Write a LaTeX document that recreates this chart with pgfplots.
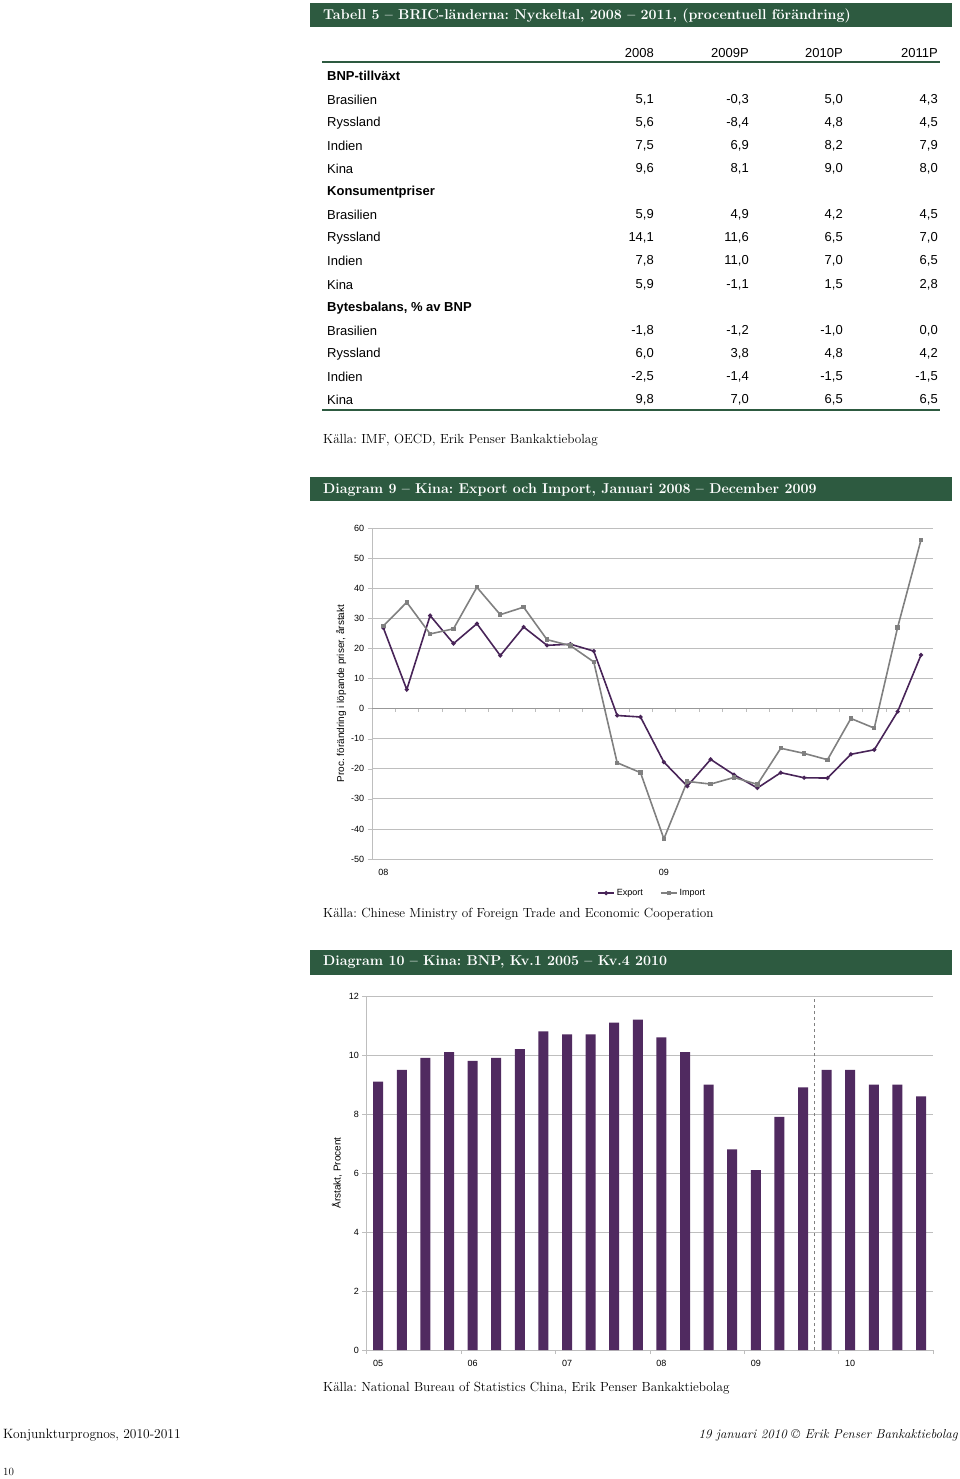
\documentclass[border=0pt]{standalone}
\usepackage{fontspec}
\usepackage{pgfplots}
\pgfplotsset{compat=1.18}
\newfontfamily\arial{Liberation Sans}
\definecolor{band}{RGB}{45,90,64}
\definecolor{purp}{RGB}{80,42,96}
\definecolor{expc}{RGB}{72,36,88}
\definecolor{impc}{RGB}{128,128,128}
\definecolor{gridc}{RGB}{190,190,190}
\newcommand\tf{\arial\fontsize{13}{15}\selectfont}
\newcommand\trow[6]{%
  \node[anchor=west,inner sep=0,font=\tf] at (327,#1) {#2};
  \node[anchor=east,inner sep=0,font=\tf] at (654,#1) {#3};
  \node[anchor=east,inner sep=0,font=\tf] at (749,#1) {#4};
  \node[anchor=east,inner sep=0,font=\tf] at (843,#1) {#5};
  \node[anchor=east,inner sep=0,font=\tf] at (938,#1) {#6};}
\newcommand\thead[2]{\node[anchor=west,inner sep=0,font=\tf\bfseries] at (327,#1) {#2};}
\begin{document}
\frenchspacing
\begin{tikzpicture}
\path[use as bounding box] (0pt,0pt) rectangle (960pt,-1479pt);
\begin{scope}[x=1pt,y=-1pt]
% ---------- Table ----------
\fill[band] (310,3) rectangle (952,27);
\node[anchor=west,text=white,inner sep=0,font=\fontsize{14.2}{17}\selectfont\bfseries] at (323,15.5) {Tabell 5 -- BRIC-länderna: Nyckeltal, 2008 -- 2011, (procentuell förändring)};
\foreach \t/\x in {2008/654,2009P/749,2010P/843,2011P/938}
  \node[anchor=east,inner sep=0,font=\tf] at (\x,53) {\t};
\draw[band,line width=2.5pt] (322,62) -- (940,62);
\thead{76}{BNP-tillväxt}
\trow{100}{Brasilien}{5,1}{-0,3}{5,0}{4,3}
\trow{123}{Ryssland}{5,6}{-8,4}{4,8}{4,5}
\trow{146}{Indien}{7,5}{6,9}{8,2}{7,9}
\trow{169}{Kina}{9,6}{8,1}{9,0}{8,0}
\thead{192}{Konsumentpriser}
\trow{215}{Brasilien}{5,9}{4,9}{4,2}{4,5}
\trow{238}{Ryssland}{14,1}{11,6}{6,5}{7,0}
\trow{261}{Indien}{7,8}{11,0}{7,0}{6,5}
\trow{285}{Kina}{5,9}{-1,1}{1,5}{2,8}
\thead{308}{Bytesbalans, \% av BNP}
\trow{331}{Brasilien}{-1,8}{-1,2}{-1,0}{0,0}
\trow{354}{Ryssland}{6,0}{3,8}{4,8}{4,2}
\trow{377}{Indien}{-2,5}{-1,4}{-1,5}{-1,5}
\trow{400}{Kina}{9,8}{7,0}{6,5}{6,5}
\draw[band,line width=2.5pt] (322,410) -- (940,410);
\node[anchor=west,inner sep=0,font=\fontsize{13.2}{16}\selectfont] at (323,440) {Källa: IMF, OECD, Erik Penser Bankaktiebolag};
% ---------- Diagram 9 header ----------
\fill[band] (310,477) rectangle (952,501);
\node[anchor=west,text=white,inner sep=0,font=\fontsize{14.2}{17}\selectfont\bfseries] at (323,489.5) {Diagram 9 -- Kina: Export och Import, Januari 2008 -- December 2009};
\node[anchor=west,inner sep=0,font=\fontsize{13.2}{16}\selectfont] at (323,914) {Källa: Chinese Ministry of Foreign Trade and Economic Cooperation};
% ---------- Diagram 10 header ----------
\fill[band] (310,950) rectangle (952,975);
\node[anchor=west,text=white,inner sep=0,font=\fontsize{14.2}{17}\selectfont\bfseries] at (323,962.5) {Diagram 10 -- Kina: BNP, Kv.1 2005 -- Kv.4 2010};
\node[anchor=west,inner sep=0,font=\fontsize{13.2}{16}\selectfont] at (323,1388) {Källa: National Bureau of Statistics China, Erik Penser Bankaktiebolag};
% ---------- Footer ----------
\node[anchor=west,inner sep=0,font=\fontsize{13.5}{15}\selectfont] at (3,1435) {Konjunkturprognos, 2010-2011};
\node[anchor=east,inner sep=0,font=\fontsize{13}{15}\selectfont\itshape] at (958,1435) {19 januari 2010 © Erik Penser Bankaktiebolag};
\node[anchor=west,inner sep=0,font=\fontsize{11}{13}\selectfont] at (3,1472) {10};
\end{scope}

% ---------- Chart 1 ----------
\begin{axis}[
  at={(371.7pt,-859pt)}, anchor=south west,
  width=561pt, height=331pt, scale only axis,
  xmin=-0.5, xmax=23.5, ymin=-50, ymax=60,
  ytick={-50,-40,...,60},
  xtick=\empty, extra x ticks={0,12}, extra x tick labels={08,09},
  extra tick style={major tick length=0pt},
  extra x tick style={xticklabel style={yshift=-7pt}},
  axis x line*=bottom, axis y line*=left,
  axis line style={draw=gridc},
  ymajorgrids, grid style={draw=gridc, line width=0.8pt},
  major tick length=4pt, tick align=outside, tick style={draw=gridc},
  tick label style={font=\arial\fontsize{9}{10}\selectfont},
  /pgf/number format/assume math mode=true,
  ylabel={Proc. förändring i löpande priser, årstakt},
  ylabel style={font=\arial\fontsize{10}{12}\selectfont, yshift=-2pt},
  legend style={at={(0.5,-0.103)}, anchor=center, draw=none, legend columns=2,
    font=\arial\fontsize{9}{10}\selectfont,
    /tikz/every even column/.append style={column sep=15pt}},
  legend image code/.code={\draw[#1] (0pt,0pt) -- (16pt,0pt); \draw[#1] plot coordinates {(8pt,0pt)};},
]
\draw[draw=gridc!80!black, line width=0.8pt] (axis cs:-0.5,0) -- (axis cs:23.5,0);
\pgfplotsinvokeforeach{-0.5,0.5,...,23.5}{\draw[draw=gridc] (axis cs:#1,0) -- ++(0pt,-3pt);}
\addplot[expc, line width=1.6pt, mark=*, mark size=1.2pt] coordinates {
(0,26.8) (1,6.3) (2,30.9) (3,21.6) (4,28.2) (5,17.6) (6,27.1) (7,21.0)
(8,21.4) (9,19.1) (10,-2.3) (11,-2.8) (12,-17.8) (13,-25.8) (14,-16.9) (15,-22.0)
(16,-26.4) (17,-21.3) (18,-23.0) (19,-23.1) (20,-15.2) (21,-13.7) (22,-1.0) (23,17.8)};
\addlegendentry{Export}
\addplot[impc, line width=1.6pt, mark=square*, mark size=1.4pt] coordinates {
(0,27.5) (1,35.3) (2,24.8) (3,26.5) (4,40.3) (5,31.2) (6,33.7) (7,22.9)
(8,20.9) (9,15.5) (10,-18.0) (11,-21.3) (12,-43.3) (13,-24.2) (14,-25.1) (15,-22.9)
(16,-25.2) (17,-13.2) (18,-14.9) (19,-17.0) (20,-3.3) (21,-6.5) (22,27.0) (23,56.1)};
\addlegendentry{Import}
\end{axis}

% ---------- Chart 2 ----------
\begin{axis}[
  at={(366.4pt,-1350pt)}, anchor=south west,
  width=566.4pt, height=354pt, scale only axis,
  xmin=-0.5, xmax=23.5, ymin=0, ymax=12,
  ytick={0,2,...,12},
  xtick={-0.5,3.5,...,23.5}, xticklabels={},
  extra x ticks={0,4,...,20}, extra x tick labels={05,06,07,08,09,10},
  extra tick style={major tick length=0pt},
  extra x tick style={xticklabel style={yshift=-7pt}},
  axis x line*=bottom, axis y line*=left,
  axis line style={draw=gridc},
  ymajorgrids, grid style={draw=gridc, line width=0.8pt},
  major tick length=4pt, tick align=outside, tick style={draw=gridc},
  tick label style={font=\arial\fontsize{9}{10}\selectfont},
  /pgf/number format/assume math mode=true,
  ylabel={Årstakt, Procent},
  ylabel style={font=\arial\fontsize{10}{12}\selectfont},
  ybar, bar width=10pt,
]
\addplot[fill=purp, draw=none] coordinates {
(0,9.1) (1,9.5) (2,9.9) (3,10.1) (4,9.8) (5,9.9) (6,10.2) (7,10.8)
(8,10.7) (9,10.7) (10,11.1) (11,11.2) (12,10.6) (13,10.1) (14,9.0) (15,6.8)
(16,6.1) (17,7.9) (18,8.9) (19,9.5) (20,9.5) (21,9.0) (22,9.0) (23,8.6)};
\draw[dashed, draw=gray, line width=0.8pt] (axis cs:18.5,0) -- (axis cs:18.5,12);
\end{axis}
\end{tikzpicture}
\end{document}
